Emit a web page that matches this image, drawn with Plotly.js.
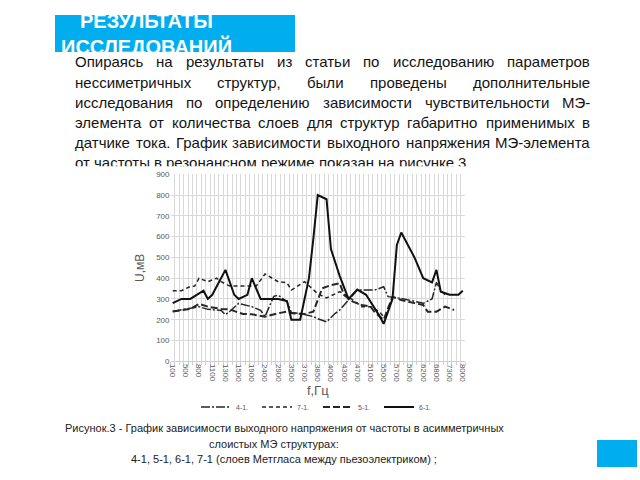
<!DOCTYPE html>
<html><head><meta charset="utf-8">
<script src="https://cdn.plot.ly/plotly-3.0.1.min.js"></script>
<style>html,body{margin:0;padding:0;background:#fff;}#chart{width:640px;height:480px;}</style>
</head><body><div id="chart"></div>
<script>
// ---- data ----
const tickLabels = ["100","500","800","1100","1300","1500","1900","2400","2900","3500","3700","3850","4000","4300","4700","5100","5500","5700","5900","6200","6800","7300","8000"];
const labelInterval = 3; // categories between labels
const nCategories = 67;

const s41_idx = [0,3,6,8,11,12,13,15,18,20,21,23,24,26,27,29,32,33,35,37,38,40,42,44,46,48,49,52,55,57,59,60,61,62];
const s41_val = [240,250,263,250,245,225,240,279,263,245,215,313,318,287,235,230,215,205,190,231,247,295,343,343,343,359,311,303,287,279,300,380,340,320];

const s71_idx = [0,2,4,5,6,8,10,11,13,19,21,24,26,27,30,33,35,38,40,42,43,45,47,48];
const s71_val = [340,340,360,362,400,383,400,383,362,362,420,383,378,343,383,325,305,335,311,279,263,263,239,215];

const s51_idx = [0,2,4,6,8,11,13,15,16,18,20,21,24,26,27,30,32,34,36,38,39,41,43,45,46,48,50,52,55,57,58,60,62,64];
const s51_val = [240,245,252,276,263,252,250,234,228,226,218,215,231,239,231,228,239,351,367,375,319,287,271,263,235,200,311,295,280,271,239,239,263,247];

const s61_idx = [0,2,4,7,8,9,12,14,15,17,18,20,24,26,27,29,30,31,32,33,35,36,38,40,42,44,47,48,50,51,52,55,57,59,60,61,63,65,66];
const s61_val = [280,300,300,340,300,320,440,320,300,320,400,300,300,290,200,200,300,400,590,800,780,540,410,300,345,320,220,180,300,560,620,500,400,380,440,335,320,320,340];

const seriesNames = ["4-1.","7-1.","5-1.","6-1."];

const bannerLines = ["РЕЗУЛЬТАТЫ","ИССЛЕДОВАНИЙ"];
const paraLines = [
"Опираясь на результаты из статьи по исследованию параметров",
"нессиметричных структур, были проведены дополнительные",
"исследования по определению зависимости чувствительности МЭ-",
"элемента от количества слоев для структур габаритно применимых в",
"датчике тока. График зависимости выходного напряжения МЭ-элемента",
"от частоты в резонансном режиме показан на рисунке 3"];
const captionLines = [
"Рисунок.3 - График зависимости выходного напряжения от частоты в асимметричных",
"слоистых МЭ структурах:",
"4-1, 5-1, 6-1, 7-1 (слоев Метгласа между пьезоэлектриком) ;"];

// ---- layout helpers ----
const W = 640, H = 480;
const px = x => x / W, py = y => 1 - y / H;
const F = "Liberation Sans, Arial, sans-serif";
const BLUE = "#00AEEF";
const GRAY = "#595959";

const traces = [
  {x:s41_idx, y:s41_val, name:seriesNames[0], line:{color:'#262626', width:1.5, dash:'9px,2px,2px,2px'}},
  {x:s71_idx, y:s71_val, name:seriesNames[1], line:{color:'#262626', width:1.5, dash:'4px,3px'}},
  {x:s51_idx, y:s51_val, name:seriesNames[2], line:{color:'#262626', width:2, dash:'7px,3px'}},
  {x:s61_idx, y:s61_val, name:seriesNames[3], line:{color:'#111', width:2}}
].map(t => Object.assign({type:'scatter', mode:'lines', hoverinfo:'skip'}, t));

// text measurement for justified paragraph
const cv = document.createElement('canvas').getContext('2d');
const paraSize = 15;
cv.font = paraSize + "px 'Liberation Sans'";
const paraLeft = 75, paraRight = 590;
const paraY0 = 62, paraDy = 20.2;

const annotations = [];
const baseAnn = {xref:'paper', yref:'paper', showarrow:false, borderpad:0, borderwidth:0};

// banner text: first line overflows upward (white on white), second is clipped at the banner's lower edge
annotations.push(Object.assign({}, baseAnn, {x:px(146), y:py(21), xanchor:'center', yanchor:'middle',
  text:'<b>'+bannerLines[0]+'</b>', font:{family:F, size:20, color:'#ffffff'}}));
annotations.push(Object.assign({}, baseAnn, {x:px(146), y:py(43.5), xanchor:'center', yanchor:'middle',
  height:17, valign:'top',
  text:'<b>'+bannerLines[1]+'</b>', font:{family:F, size:20, color:'#ffffff'}}));

// paragraph, word by word, justified
const spaceW = cv.measureText(' ').width;
paraLines.forEach((line, k) => {
  const words = line.split(' ');
  const widths = words.map(w => cv.measureText(w).width);
  const total = widths.reduce((a,b)=>a+b, 0);
  const last = k === paraLines.length - 1;
  const gap = last ? spaceW : (paraRight - paraLeft - total) / (words.length - 1);
  let x = paraLeft;
  words.forEach((w, j) => {
    const a = Object.assign({}, baseAnn, {x:px(x), y:py(paraY0 + k*paraDy), xanchor:'left', yanchor:'middle',
      text:w, font:{family:F, size:paraSize, color:'#141414'}});
    if (last) { // the chart picture covers the lower part of this line
      a.y = py(paraY0 + k*paraDy - 2.6); a.height = 12.2; a.valign = 'top';
    }
    annotations.push(a);
    x += widths[j] + gap;
  });
});

// caption
const capX = [284, 274, 284];
captionLines.forEach((t, k) => {
  annotations.push(Object.assign({}, baseAnn, {x:px(capX[k]), y:py(428 + k*15.5), xanchor:'center', yanchor:'middle',
    text:t, font:{family:F, size:11, color:'#222'}}));
});

const layout = {
  width:W, height:H,
  margin:{l:0, r:0, t:0, b:0},
  paper_bgcolor:'#fff', plot_bgcolor:'#fff',
  font:{family:F},
  showlegend:true,
  legend:{orientation:'h', x:px(318), xanchor:'center', y:py(407), yanchor:'middle',
    font:{size:7, color:GRAY, family:F}, itemwidth:30, entrywidth:16, entrywidthmode:'pixels',
    bgcolor:'rgba(0,0,0,0)', tracegroupgap:0},
  xaxis:{domain:[px(170.5), px(465)], range:[-0.5, nCategories - 0.5],
    tickmode:'array', tickvals:tickLabels.map((_,k)=>k*labelInterval), ticktext:tickLabels,
    tickangle:90, tickfont:{size:8, color:GRAY, family:F}, showgrid:false, zeroline:false,
    showline:true, linecolor:'#d0d0d0', ticks:'',
    minor:{tickmode:'linear', tick0:0.5, dtick:1, showgrid:true, gridcolor:'#d9d9d9', gridwidth:1,
      ticks:'outside', ticklen:3, tickcolor:'#d0d0d0'},
    title:{text:'f,Гц', font:{size:13, color:GRAY, family:F}, standoff:4}, fixedrange:true},
  yaxis:{domain:[py(361.3), py(174.3)], range:[0, 900], dtick:100,
    tickfont:{size:8, color:GRAY, family:F}, gridcolor:'#d9d9d9', gridwidth:1, zeroline:false, showline:false,
    title:{text:'U,мВ', font:{size:12, color:GRAY, family:F}, standoff:8}, fixedrange:true},
  shapes:[
    {type:'rect', xref:'paper', yref:'paper', x0:px(55), x1:px(295), y0:py(52), y1:py(15), fillcolor:BLUE, line:{width:0}, layer:'below'},
    {type:'rect', xref:'paper', yref:'paper', x0:px(597), x1:px(637), y0:py(467), y1:py(440), fillcolor:BLUE, line:{width:0}, layer:'below'}
  ],
  annotations: annotations
};

Plotly.newPlot('chart', traces, layout, {staticPlot:true, displayModeBar:false});
</script>
</body></html>
